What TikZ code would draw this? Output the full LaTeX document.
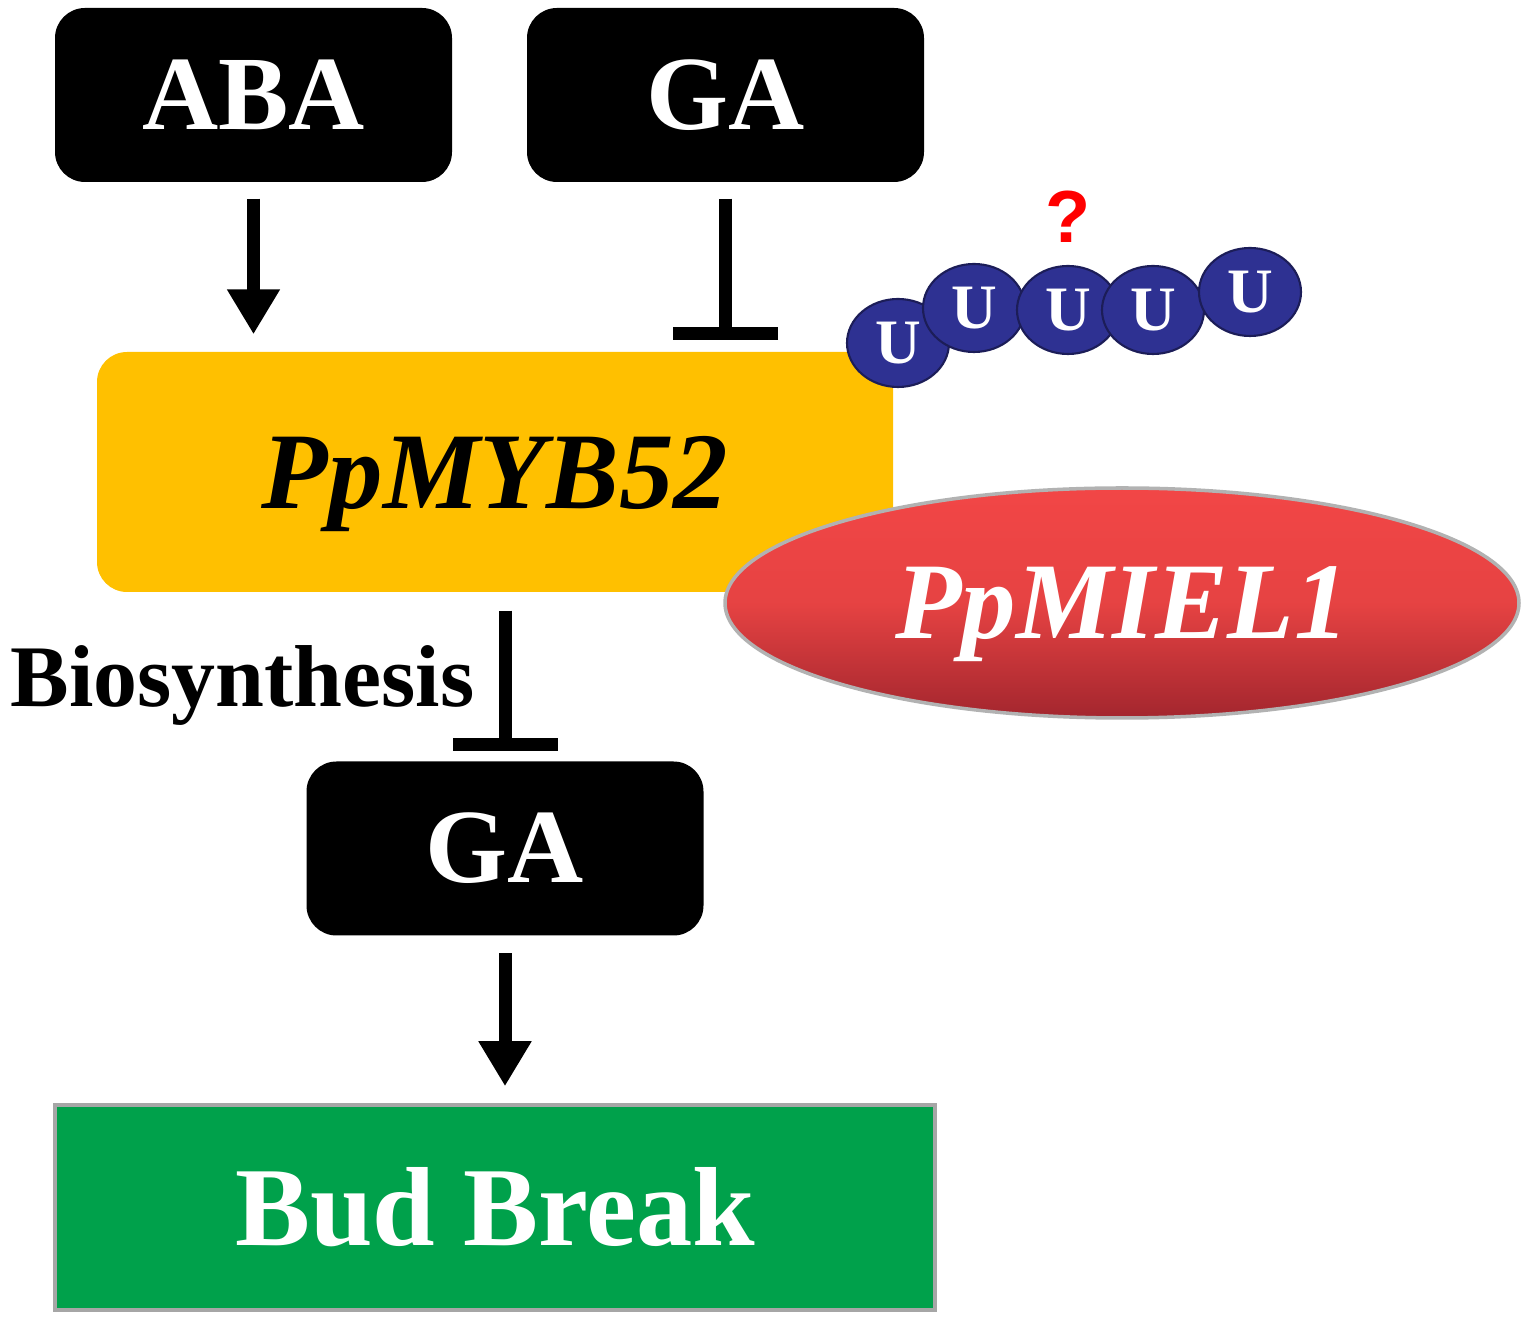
\documentclass[tikz,border=0pt]{standalone}
\usepackage{fontspec}
\setmainfont{Liberation Serif}
\newfontfamily\qfont{Liberation Sans}
\usetikzlibrary{arrows.meta,shapes.geometric}
\definecolor{mybgold}{HTML}{FFC000}
\definecolor{budgreen}{HTML}{00A14B}
\definecolor{ubblue}{HTML}{2E3192}
\definecolor{mielred}{HTML}{F24646}
\definecolor{mieldark}{HTML}{A3262E}
\def\lw{1.3mm}
\def\big#1{\fontsize{#1}{#1}\selectfont\bfseries}
\tikzset{
  hormone/.style={fill=black,rounded corners=3mm,minimum width=39.7mm,
    minimum height=17.4mm,inner sep=0pt,text=white,font=\big{30}},
  ubq/.style={ellipse,draw=ubblue!60!black,line width=0.6pt,fill=ubblue,
    minimum width=10.2mm,minimum height=8.8mm,inner sep=0pt,text=white,font=\big{18}},
  promote/.style={line width=\lw,-{Triangle[width=5mm,length=4.5mm]}},
  repress/.style={line width=\lw,-{Bar[width=10.5mm]}}
}

\begin{document}
\begin{tikzpicture}[x=0.1mm,y=-0.1mm]
\useasboundingbox (0,0) rectangle (1528,1322);
% hormones on top
\node[hormone] (aba)   at (253.5,95) {ABA};
\node[hormone] (gatop) at (725.5,95) {GA};
% transcription factor
\node[fill=mybgold,rounded corners=3mm,minimum width=79.6mm,minimum height=24mm,
      inner sep=0pt,text depth=0pt,font=\big{31}\itshape] (myb) at (495,472) {PpMYB52};
% ubiquitin chain
\foreach\x/\y [count=\i] in {898/343,974/308,1068/310,1153/310,1250/292}
  \node[ubq] (ub\i) at (\x,\y) {U};
\node[text=red,font=\qfont\big{21}] (qmark) at (1068,217) {?};
% E3 ligase
\node[ellipse,draw=gray!60,line width=1pt,top color=mielred,bottom color=mieldark,
      middle color=mielred!95!black,minimum width=79.4mm,minimum height=23mm,
      inner sep=0pt,text depth=0pt,text=white,font=\big{31}\itshape] (miel) at (1122,603) {PpMIEL1};
% lower part
\node[hormone] (galow) at (505,848.5) {GA};
\node[fill=budgreen,draw=gray!70,line width=1pt,minimum width=88mm,minimum height=20.5mm,
      inner sep=0pt,text=white,font=\big{32}] (bud) at (495,1207.5) {Bud Break};
\node[anchor=base east,inner sep=0pt,font=\big{25}] (bio) at (475,707) {Biosynthesis};
% connectors
\draw[promote,shorten <=1.6mm,shorten >=1.7mm] (aba) -- (aba |- myb.north);
\draw[repress,shorten <=1.6mm,shorten >=1.1mm] (gatop) -- (gatop |- myb.north);
\draw[repress,shorten <=1.8mm,shorten >=1.0mm] (galow |- myb.south) -- (galow);
\draw[promote,shorten <=1.7mm,shorten >=1.7mm] (galow) -- (galow |- bud.north);
\end{tikzpicture}
\end{document}
